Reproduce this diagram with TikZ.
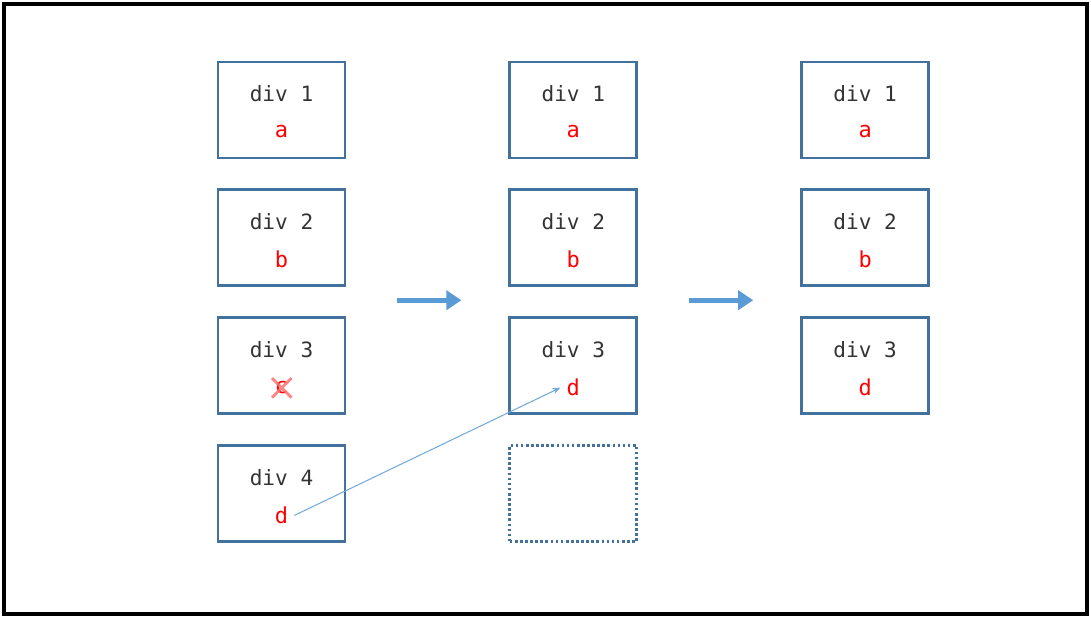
\documentclass[tikz,border=0pt]{standalone}
\usepackage{fontspec}
\setmonofont{DejaVu Sans Mono}
\usepackage{tikz}
\usetikzlibrary{positioning}
\usetikzlibrary{arrows.meta}

\definecolor{boxblue}{HTML}{41719C}
\definecolor{arrowblue}{HTML}{5B9BD5}
\definecolor{crossred}{HTML}{FF6F6F}

\begin{document}
\begin{tikzpicture}[
        box/.style={rectangle, draw=boxblue, line width=1.6pt, minimum width=2.54cm, minimum height=1.92cm},
        hole/.style={box, dash pattern=on 1.5pt off 1.4pt},
        divname/.style={font=\ttfamily\fontsize{12}{14}\selectfont, text=black!80},
        divval/.style={font=\ttfamily\fontsize{12.5}{14}\selectfont, text=red},
        move/.style={draw=arrowblue, line width=3pt, -{Triangle[length=0.3cm, width=0.38cm]}},
        jump/.style={draw=arrowblue!85, line width=0.6pt, -{Stealth[length=4.5pt, width=3.5pt]}},
        node distance=0.58cm and 3.24cm
      ]
        \useasboundingbox (0,0) rectangle (21.82,-12.36);
        \draw[black, line width=1.9pt] (0.08,-0.08) rectangle (21.74,-12.28);

        % before
        \node[box]  (L1)  at (5.63,-2.2)      {};
        \node[box]  (L2)  [below=of L1]       {};
        \node[box]  (L3)  [below=of L2]       {};
        \node[box]  (L4)  [below=of L3]       {};
        % removed
        \node[box]  (M1)  [right=of L1]       {};
        \node[box]  (M2)  [below=of M1]       {};
        \node[box]  (M3)  [below=of M2]       {};
        \node[hole] (M4)  [below=of M3]       {};
        % after
        \node[box]  (R1)  [right=of M1]       {};
        \node[box]  (R2)  [below=of R1]       {};
        \node[box]  (R3)  [below=of R2]       {};

        \foreach \b/\t/\v in {L1/div 1/a, L2/div 2/b, L3/div 3/c, L4/div 4/d,
                              M1/div 1/a, M2/div 2/b, M3/div 3/d,
                              R1/div 1/a, R2/div 2/b, R3/div 3/d} {
          \node[divname] (\b-n) at ([yshift=0.32cm]\b.center)  {\t};
          \node[divval]  (\b-v) at ([yshift=-0.44cm]\b.center) {\v};
        }

        % c is gone
        \draw[crossred, line width=1.6pt, opacity=0.85]
          ([shift={(-0.19,0.19)}]L3-v.center) -- ([shift={(0.2,-0.2)}]L3-v.center)
          ([shift={(0.2,0.19)}]L3-v.center) -- ([shift={(-0.19,-0.2)}]L3-v.center);

        \draw[jump] (L4-v.east) -- (M3-v.west);

        \coordinate (s1) at ([shift={(1.02,-0.26)}]L2.south east);
        \coordinate (e1) at ([shift={(-0.94,-0.26)}]M2.south west);
        \coordinate (s2) at ([shift={(1.02,-0.26)}]M2.south east);
        \coordinate (e2) at ([shift={(-0.94,-0.26)}]R2.south west);
        \draw[move] (s1) -- (e1);
        \draw[move] (s2) -- (e2);
      \end{tikzpicture}
\end{document}
